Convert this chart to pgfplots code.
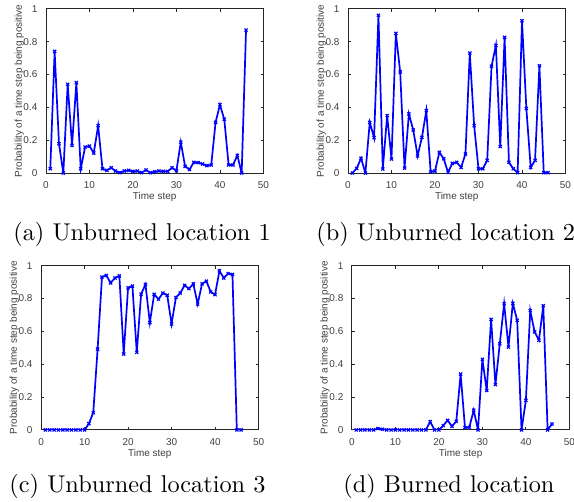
\documentclass[border=0pt]{standalone}
\usepackage{fontspec}
\newfontfamily\axisfont{Liberation Sans}
\usepackage{pgfplots}
\pgfplotsset{compat=1.18}

\pgfplotsset{probplot/.style={
    scale only axis, width=89.5pt, height=67.6pt,
    xmin=0, xmax=50, ymin=0, ymax=1,
    xtick={0,10,20,30,40,50}, ytick={0,0.2,0.4,0.6,0.8,1},
    xtick pos=both, ytick pos=both, tick align=inside,
    major tick length=1.2pt,
    axis line style={black!85, line width=0.35pt},
    every tick/.style={black!85, line width=0.35pt},
    /pgf/number format/assume math mode=true,
    yticklabel style={/pgf/number format/fixed, /pgf/number format/precision=1},
    tick label style={font=\axisfont\fontsize{4.1}{5}\selectfont, text=black!75},
    label style={font=\axisfont\fontsize{4.1}{5}\selectfont, text=black!75},
    xlabel={Time step},
    ylabel={Probability of a time step being positive},
    xlabel style={at={(axis description cs:0.5,-0.148)}, anchor=center},
    ylabel style={at={(axis description cs:-0.123,0.5)}, anchor=center},
  },
  probline/.style={blue, line width=0.7pt, mark=x, mark size=0.9pt,
    mark options={line width=0.5pt}}
}

\begin{document}
\begin{tikzpicture}
\useasboundingbox (0,0) rectangle (236.2pt,-206.2pt);

% (a)
\begin{axis}[probplot, at={(18.9pt,-71.2pt)}, anchor=south west]
\addplot[probline] coordinates {
(1,0.026) (2,0.74) (3,0.178) (4,0.0) (5,0.54) (6,0.168) (7,0.55) (8,0.026)
(9,0.158) (10,0.164) (11,0.122) (12,0.288) (13,0.026) (14,0.016) (15,0.032)
(16,0.012) (17,0.002) (18,0.012) (19,0.016) (20,0.01) (21,0.012) (22,0.002)
(23,0.018) (24,0.002) (25,0.008) (26,0.012) (27,0.01) (28,0.01) (29,0.032)
(30,0.014) (31,0.188) (32,0.04) (33,0.022) (34,0.065) (35,0.063) (36,0.055)
(37,0.045) (38,0.049) (39,0.308) (40,0.416) (41,0.327) (42,0.049) (43,0.049)
(44,0.107) (45,0.0) (46,0.87)};
\end{axis}

% (b)
\begin{axis}[probplot, at={(143.2pt,-71.2pt)}, anchor=south west]
\addplot[probline] coordinates {
(1,0.0) (2,0.028) (3,0.09) (4,0.0) (5,0.308) (6,0.215) (7,0.96) (8,0.024)
(9,0.35) (10,0.085) (11,0.85) (12,0.615) (13,0.03) (14,0.36) (15,0.262)
(16,0.105) (17,0.217) (18,0.38) (19,0.008) (20,0.012) (21,0.126) (22,0.087)
(23,0.004) (24,0.059) (25,0.065) (26,0.034) (27,0.116) (28,0.73) (29,0.288)
(30,0.026) (31,0.026) (32,0.077) (33,0.65) (34,0.777) (35,0.162) (36,0.826)
(37,0.065) (38,0.026) (39,0.002) (40,0.927) (41,0.393) (42,0.034) (43,0.077)
(44,0.653) (45,0.002) (46,0.002)};
\end{axis}

% (c)
\begin{axis}[probplot, at={(16.9pt,-176.9pt)}, anchor=south west]
\addplot[probline] coordinates {
(1,0) (2,0) (3,0) (4,0) (5,0) (6,0) (7,0) (8,0) (9,0) (10,0)
(11,0.038) (12,0.105) (13,0.492) (14,0.93) (15,0.94) (16,0.895) (17,0.925)
(18,0.937) (19,0.462) (20,0.865) (21,0.875) (22,0.472) (23,0.827) (24,0.885)
(25,0.653) (26,0.825) (27,0.796) (28,0.833) (29,0.82) (30,0.645) (31,0.806)
(32,0.833) (33,0.88) (34,0.86) (35,0.889) (36,0.766) (37,0.889) (38,0.905)
(39,0.84) (40,0.823) (41,0.968) (42,0.925) (43,0.952) (44,0.946) (45,0) (46,0)};
\end{axis}

% (d)
\begin{axis}[probplot, at={(144.8pt,-176.9pt)}, anchor=south west]
\addplot[probline] coordinates {
(1,0) (2,0) (3,0) (4,0) (5,0) (6,0.008) (7,0.004) (8,0) (9,0) (10,0)
(11,0) (12,0) (13,0) (14,0) (15,0) (16,0) (17,0) (18,0.05) (19,0) (20,0)
(21,0.026) (22,0.058) (23,0.022) (24,0.052) (25,0.34) (26,0.014) (27,0.016)
(28,0.12) (29,0) (30,0.43) (31,0.24) (32,0.673) (33,0.276) (34,0.524)
(35,0.768) (36,0.504) (37,0.77) (38,0.667) (39,0) (40,0.18) (41,0.726)
(42,0.597) (43,0.546) (44,0.756) (45,0) (46,0.036)};
\end{axis}

\node[anchor=base west, inner sep=0pt] at (5.3pt,-98.8pt) {(a) Unburned location 1};
\node[anchor=base west, inner sep=0pt] at (130.0pt,-98.8pt) {(b) Unburned location 2};
\node[anchor=base west, inner sep=0pt] at (3.7pt,-202.5pt) {(c) Unburned location 3};
\node[anchor=base west, inner sep=0pt] at (141.1pt,-202.5pt) {(d) Burned location};
\end{tikzpicture}
\end{document}
